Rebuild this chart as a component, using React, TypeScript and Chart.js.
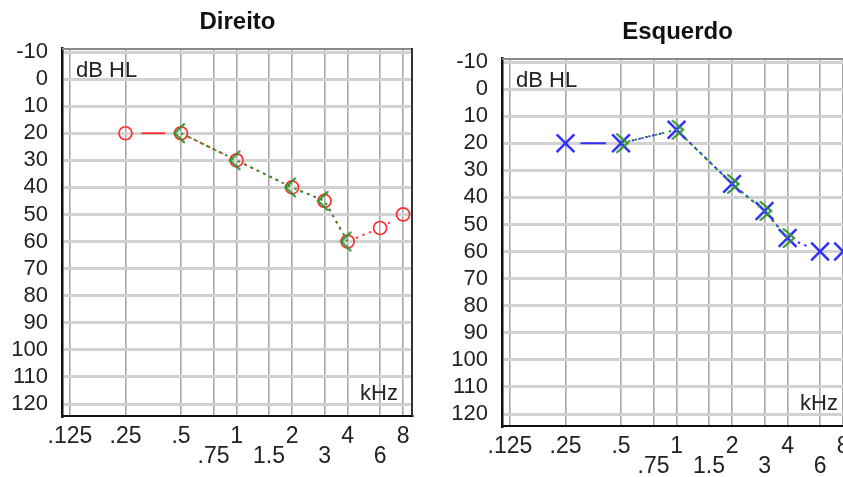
import React, { useEffect, useRef } from 'react';
import { Chart, registerables } from 'chart.js';

Chart.register(...registerables);

// ---- data ----
const FREQ_TICKS = [0.125, 0.25, 0.5, 0.75, 1, 1.5, 2, 3, 4, 6, 8];
const FREQ_LABELS_TOP = ['.125', '.25', '.5', '', '1', '', '2', '', '4', '', '8'];
const FREQ_LABELS_BOTTOM = ['', '', '', '.75', '', '1.5', '', '3', '', '6', ''];
const DB_TICKS = [-10, 0, 10, 20, 30, 40, 50, 60, 70, 80, 90, 100, 110, 120];

const AIR_FREQS = [0.25, 0.5, 1, 2, 3, 4, 6, 8];
const BONE_FREQS = [0.5, 1, 2, 3, 4];

const RIGHT_AIR = [20, 20, 30, 40, 45, 60, 55, 50];
const RIGHT_BONE = [20, 30, 40, 45, 60];
const LEFT_AIR = [20, 20, 15, 35, 45, 55, 60, 60];
const LEFT_BONE = [20, 15, 35, 45, 55];

const TITLE_RIGHT = 'Direito';
const TITLE_LEFT = 'Esquerdo';
const Y_UNIT = 'dB HL';
const X_UNIT = 'kHz';

// ---- style ----
const FONT = "'Liberation Sans', Arial, sans-serif";
const RED = '#ff2e2e';
const BLUE = '#3030ff';
const GREEN = '#2e952e';
const DOT = 2.5;
const SPACE = 4.5;
const SOLID_SEGMENTS = [0];

Chart.defaults.font.family = FONT;

function makeBracket(color: string, dir: 'left' | 'right'): HTMLCanvasElement {
  const c = document.createElement('canvas');
  c.width = 28;
  c.height = 28;
  const ctx = c.getContext('2d')!;
  ctx.strokeStyle = color;
  ctx.lineWidth = 2.2;
  ctx.lineCap = 'round';
  const cx = 14;
  const cy = 14;
  ctx.beginPath();
  if (dir === 'left') {
    ctx.moveTo(cx + 3, cy - 9);
    ctx.lineTo(cx - 6.5, cy);
    ctx.lineTo(cx + 3, cy + 9);
  } else {
    ctx.moveTo(cx - 4, cy - 9);
    ctx.lineTo(cx + 6.5, cy);
    ctx.lineTo(cx - 4, cy + 9);
  }
  ctx.stroke();
  return c;
}

function segDash(solidGap: number, dotGap: number) {
  return (c: any) => {
    const L = Math.hypot(c.p1.x - c.p0.x, c.p1.y - c.p0.y);
    const idx = c.p0DataIndex;
    const tail = 1000 + idx;
    if (SOLID_SEGMENTS.includes(idx)) {
      return [0, solidGap, Math.max(L - 2 * solidGap, 0.01), tail];
    }
    const arr = [0, dotGap];
    let pos = dotGap;
    while (pos + DOT <= L - dotGap) {
      arr.push(DOT, SPACE);
      pos += DOT + SPACE;
    }
    arr[arr.length - 1] = tail;
    return arr;
  };
}

const decorPlugin = {
  id: 'decor',
  beforeDatasetsDraw(chart: any) {
    const { ctx, chartArea: a } = chart;
    ctx.save();
    ctx.lineWidth = 2;
    ctx.strokeStyle = '#8a8a8a';
    ctx.beginPath();
    ctx.moveTo(a.left, a.top + 1);
    ctx.lineTo(a.right, a.top + 1);
    ctx.stroke();
    ctx.strokeStyle = '#333';
    ctx.beginPath();
    ctx.moveTo(a.right - 1, a.top);
    ctx.lineTo(a.right - 1, a.bottom);
    ctx.stroke();
    ctx.restore();
  },
  afterDraw(chart: any, _args: any, opts: any) {
    const { ctx, chartArea: a } = chart;
    ctx.save();
    ctx.fillStyle = '#111';
    ctx.font = `bold 24px ${FONT}`;
    ctx.textAlign = 'center';
    ctx.textBaseline = 'alphabetic';
    ctx.fillText(opts.title, (a.left + a.right) / 2, 29);
    ctx.fillStyle = '#222';
    ctx.font = `22px ${FONT}`;
    ctx.textAlign = 'left';
    ctx.fillText(Y_UNIT, a.left + 14, a.top + 29);
    ctx.textAlign = 'right';
    ctx.fillText(X_UNIT, a.right - 15, a.bottom - 16);
    ctx.restore();
  },
};

type PanelProps = {
  title: string;
  air: number[];
  bone: number[];
  ear: 'right' | 'left';
  left: number;
  top: number;
};

function Panel({ title, air, bone, ear, left, top }: PanelProps) {
  const ref = useRef<HTMLCanvasElement>(null);
  useEffect(() => {
    const canvas = ref.current!;
    const isRight = ear === 'right';
    const airColor = isRight ? RED : BLUE;
    const airData = AIR_FREQS.map((x, i) => ({ x, y: air[i] }));
    const boneData = BONE_FREQS.map((x, i) => ({ x, y: bone[i] }));
    const chart = new Chart(canvas, {
      type: 'scatter',
      data: {
        datasets: [
          {
            label: 'bone',
            data: boneData,
            showLine: true,
            borderColor: GREEN,
            borderWidth: 2,
            borderDash: [DOT, SPACE],
            pointStyle: makeBracket(GREEN, isRight ? 'left' : 'right'),
            pointRadius: 8,
          } as any,
          {
            label: 'air',
            data: airData,
            showLine: true,
            borderColor: airColor,
            borderWidth: isRight ? 1.8 : 2,
            pointStyle: isRight ? 'circle' : 'crossRot',
            pointRadius: isRight ? 6.5 : 12.5,
            pointBorderWidth: isRight ? 1.7 : 2.5,
            pointBorderColor: airColor,
            pointBackgroundColor: 'rgba(0,0,0,0)',
            segment: { borderDash: segDash(isRight ? 16 : 15, isRight ? 9 : 11) },
          } as any,
        ],
      },
      options: {
        responsive: false,
        animation: false,
        events: [],
        layout: { autoPadding: false, padding: { top: 48, right: 7, left: 0, bottom: 0 } },
        plugins: {
          legend: { display: false },
          tooltip: { enabled: false },
          title: { display: false },
          decor: { title },
        } as any,
        scales: {
          x: {
            type: 'logarithmic',
            min: 0.1132,
            max: 9.05,
            bounds: 'data',
            afterBuildTicks: (s: any) => {
              s.ticks = FREQ_TICKS.map((v) => ({ value: v }));
            },
            afterFit: (s: any) => {
              s.height = 61;
              s.paddingLeft = 0;
              s.paddingRight = 0;
            },
            grid: { color: '#a8a8a8', lineWidth: 1.6, drawTicks: false },
            border: { display: true, color: '#111', width: 2 },
            ticks: {
              autoSkip: false,
              maxRotation: 0,
              minRotation: 0,
              padding: 11,
              color: '#222',
              font: { family: FONT, size: 23, lineHeight: '20px' },
              callback: (_v: any, i: number) => [FREQ_LABELS_TOP[i], FREQ_LABELS_BOTTOM[i]],
            },
          } as any,
          y: {
            type: 'linear',
            reverse: true,
            min: -11.48,
            max: 124.43,
            afterBuildTicks: (s: any) => {
              s.ticks = DB_TICKS.map((v) => ({ value: v }));
            },
            afterFit: (s: any) => {
              s.width = 62;
              s.paddingTop = 0;
              s.paddingBottom = 0;
            },
            grid: { color: '#d2d2d2', lineWidth: 3, drawTicks: false },
            border: { display: true, color: '#111', width: 2.5 },
            ticks: {
              autoSkip: false,
              padding: 14,
              color: '#222',
              font: { family: FONT, size: 22 },
              callback: (v: any) => String(v),
            },
          } as any,
        },
      },
      plugins: [decorPlugin as any],
    });
    return () => chart.destroy();
  }, [title, air, bone, ear]);
  return (
    <div style={{ position: 'absolute', left, top, width: 420, height: 477 }}>
      <canvas ref={ref} width={420} height={477} style={{ display: 'block' }} />
    </div>
  );
}

export default function App() {
  return (
    <div
      style={{
        position: 'fixed',
        left: 0,
        top: 0,
        width: 843,
        height: 477,
        overflow: 'hidden',
        background: '#fff',
      }}
    >
      <Panel title={TITLE_RIGHT} air={RIGHT_AIR} bone={RIGHT_BONE} ear="right" left={0} top={0} />
      <Panel title={TITLE_LEFT} air={LEFT_AIR} bone={LEFT_BONE} ear="left" left={440} top={10} />
    </div>
  );
}
